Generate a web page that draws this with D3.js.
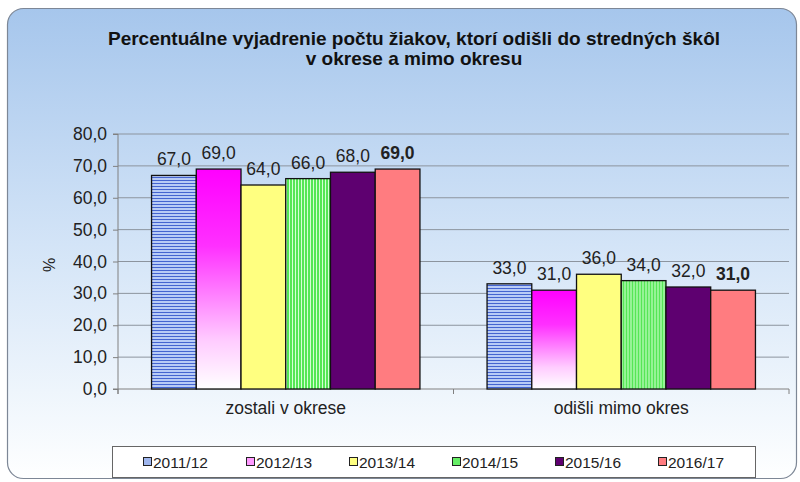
<!DOCTYPE html>
<html><head><meta charset="utf-8">
<script src="https://cdn.jsdelivr.net/npm/d3@7"></script>
<style>body{margin:0;background:#fff}svg{display:block}text{font-family:Arial,"Liberation Sans",sans-serif}</style>
</head><body>
<script>
const categories = ["zostali v okrese", "odišli mimo okres"];
const years = ["2011/12", "2012/13", "2013/14", "2014/15", "2015/16", "2016/17"];
const zostali = [67.0, 69.0, 64.0, 66.0, 68.0, 69.0];
const odisli = [33.0, 31.0, 36.0, 34.0, 32.0, 31.0];
const yTicks = [0, 10, 20, 30, 40, 50, 60, 70, 80];
const titleLines = ["Percentuálne vyjadrenie počtu žiakov, ktorí odišli do stredných škôl", "v okrese a mimo okresu"];
const yLabel = "%";

const seriesValues = [zostali, odisli];
const fills = ["url(#pBlue)", "url(#gMag)", "#ffff80", "url(#pGreen)", "#5e0070", "#ff7c80"];
const legendFills = ["#9fb6ee", "#ff99ff", "#ffff80", "#66ee66", "#5e0070", "#ff7c80"];

const W = 800, H = 482;
const FS = 17.5;
const svg = d3.select("body").append("svg").attr("width", W).attr("height", H);
const defs = svg.append("defs");

const bg = defs.append("linearGradient").attr("id", "bgGrad").attr("x1", 0).attr("y1", 0).attr("x2", 0).attr("y2", 1);
bg.append("stop").attr("offset", 0).attr("stop-color", "#a6c6ec");
bg.append("stop").attr("offset", 0.5).attr("stop-color", "#d3e4f7");
bg.append("stop").attr("offset", 1).attr("stop-color", "#feffff");

const gm = defs.append("linearGradient").attr("id", "gMag").attr("x1", 0).attr("y1", 0).attr("x2", 0).attr("y2", 1);
gm.append("stop").attr("offset", 0).attr("stop-color", "#ff00ff");
gm.append("stop").attr("offset", 0.35).attr("stop-color", "#ff30ff");
gm.append("stop").attr("offset", 0.78).attr("stop-color", "#ffccff");
gm.append("stop").attr("offset", 1).attr("stop-color", "#ffffff");

const pb = defs.append("pattern").attr("id", "pBlue").attr("patternUnits", "userSpaceOnUse").attr("width", 6).attr("height", 3);
pb.append("rect").attr("width", 6).attr("height", 3).attr("fill", "#b8cbf6");
pb.append("rect").attr("width", 6).attr("height", 1).attr("fill", "#4464d0");

const pg = defs.append("pattern").attr("id", "pGreen").attr("patternUnits", "userSpaceOnUse").attr("width", 3).attr("height", 6);
pg.append("rect").attr("width", 3).attr("height", 6).attr("fill", "#55e655");
pg.append("rect").attr("width", 1).attr("height", 6).attr("fill", "#d4ffd4");

// frame
svg.append("rect").attr("x", 7.5).attr("y", 8.5).attr("width", 789).attr("height", 470).attr("rx", 16)
  .attr("fill", "url(#bgGrad)").attr("stroke", "#7d8796").attr("stroke-width", 1.2);

// title
svg.append("text").attr("x", 414).attr("y", 45).attr("text-anchor", "middle")
  .attr("font-size", 19).attr("font-weight", "bold").attr("fill", "#111")
  .selectAll("tspan").data(titleLines).join("tspan")
  .attr("x", 414).attr("dy", (d, i) => i === 0 ? 0 : 20).text(d => d);

const x = d3.scaleBand().domain(categories).range([118, 789]).padding(0);
const xi = d3.scaleBand().domain(years).range([x.bandwidth() * 0.1, x.bandwidth() * 0.9]).padding(0);
const y = d3.scaleLinear().domain([0, 80]).range([389, 134]);

// gridlines
svg.append("g").selectAll("line").data(yTicks.filter(t => t > 0)).join("line")
  .attr("x1", 118).attr("x2", 789).attr("y1", d => y(d)).attr("y2", d => y(d))
  .attr("stroke", "#8c949e").attr("stroke-width", 1);

// y axis
const yAxis = d3.axisLeft(y).tickValues(yTicks).tickSize(5).tickPadding(6)
  .tickFormat(d => d3.format(".1f")(d).replace(".", ","));
const gy = svg.append("g").attr("transform", "translate(118,0)").call(yAxis);
gy.select(".domain").attr("stroke", "#808080").attr("d", `M-5,${y(80)}H0V${y(0)}H-5`);
gy.selectAll(".tick line").attr("stroke", "#808080");
gy.selectAll(".tick text").attr("font-size", FS).attr("fill", "#222").attr("font-family", "Arial, 'Liberation Sans', sans-serif");

// x axis
const xAxis = d3.axisBottom(x).tickSize(0).tickPadding(13);
const gx = svg.append("g").attr("transform", `translate(0,${y(0)})`).call(xAxis);
gx.select(".domain").attr("stroke", "#808080").attr("d", `M118,0V5V0H789V5`);
gx.selectAll(".tick text").attr("font-size", FS).attr("fill", "#222").attr("font-family", "Arial, 'Liberation Sans', sans-serif");
gx.append("g").selectAll("line").data(categories.slice(1)).join("line")
  .attr("x1", d => x(d)).attr("x2", d => x(d)).attr("y1", 0).attr("y2", 5).attr("stroke", "#808080");

// y label
svg.append("text").attr("transform", "translate(55,265) rotate(-90)").attr("text-anchor", "middle")
  .attr("font-size", 16).attr("fill", "#222").text(yLabel);

// bars
const groups = svg.append("g").selectAll("g").data(categories).join("g")
  .attr("transform", d => `translate(${x(d)},0)`);
groups.each(function (cat, ci) {
  const g = d3.select(this);
  const vals = seriesValues[ci];
  g.selectAll("rect").data(years).join("rect")
    .attr("x", d => xi(d)).attr("width", xi.bandwidth())
    .attr("y", (d, i) => y(vals[i])).attr("height", (d, i) => y(0) - y(vals[i]))
    .attr("fill", (d, i) => fills[i]).attr("stroke", "#111").attr("stroke-width", 1.3);
  g.selectAll("text").data(years).join("text")
    .attr("x", d => xi(d) + xi.bandwidth() / 2).attr("y", (d, i) => y(vals[i]) - 10)
    .attr("text-anchor", "middle").attr("font-size", FS).attr("fill", "#222")
    .attr("font-weight", (d, i) => i === years.length - 1 ? "bold" : "normal")
    .text((d, i) => d3.format(".1f")(vals[i]).replace(".", ","));
});

// legend
svg.append("rect").attr("x", 112.5).attr("y", 446.5).attr("width", 643).attr("height", 31)
  .attr("fill", "#fff").attr("stroke", "#666").attr("stroke-width", 1);
const lx = d3.scaleBand().domain(years).range([143, 761]);
const lg = svg.append("g").selectAll("g").data(years).join("g")
  .attr("transform", d => `translate(${lx(d)},462)`);
lg.append("rect").attr("x", 0.5).attr("y", -4.5).attr("width", 8).attr("height", 8)
  .attr("fill", (d, i) => legendFills[i]).attr("stroke", "#222").attr("stroke-width", 1);
lg.append("text").attr("x", 10).attr("y", 5.5).attr("font-size", 15.5).attr("fill", "#222").text(d => d);
</script>
</body></html>
